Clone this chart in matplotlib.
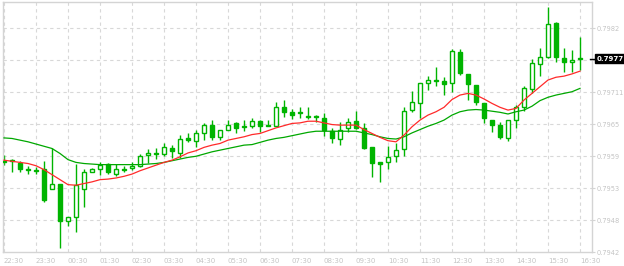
import matplotlib
matplotlib.use("Agg")
import matplotlib.pyplot as plt
import numpy as np

# ---- data (15-minute candles) ----
time_labels = ["22:30", "23:30", "00:30", "01:30", "02:30", "03:30", "04:30",
               "05:30", "06:30", "07:30", "08:30", "09:30", "10:30", "11:30",
               "12:30", "13:30", "14:30", "15:30", "16:30"]

open_ = [0.79583, 0.79584, 0.79580, 0.79568, 0.79566, 0.79569, 0.79534, 0.79542, 0.79475, 0.79482,
         0.79534, 0.79563, 0.79569, 0.79578, 0.79560, 0.79570, 0.79571, 0.79574, 0.79594, 0.79598,
         0.79596, 0.79607, 0.79597, 0.79625, 0.79620, 0.79633, 0.79648, 0.79627, 0.79640, 0.79652,
         0.79645, 0.79646, 0.79655, 0.79648, 0.79647, 0.79680, 0.79672, 0.79670, 0.79663, 0.79664,
         0.79660, 0.79637, 0.79623, 0.79642, 0.79655, 0.79642, 0.79608, 0.79582, 0.79581, 0.79592,
         0.79605, 0.79675, 0.79687, 0.79724, 0.79728, 0.79727, 0.79723, 0.79779, 0.79740, 0.79720,
         0.79687, 0.79657, 0.79648, 0.79624, 0.79658, 0.79681, 0.79712, 0.79757, 0.79771, 0.79831,
         0.79768, 0.79761, 0.79766]

high = [0.79594, 0.79587, 0.79583, 0.79575, 0.79572, 0.79583, 0.79606, 0.79542, 0.79482, 0.79579,
        0.79570, 0.79571, 0.79581, 0.79580, 0.79579, 0.79575, 0.79582, 0.79596, 0.79605, 0.79606,
        0.79616, 0.79612, 0.79630, 0.79634, 0.79639, 0.79652, 0.79657, 0.79640, 0.79657, 0.79654,
        0.79658, 0.79661, 0.79658, 0.79657, 0.79690, 0.79693, 0.79677, 0.79680, 0.79680, 0.79667,
        0.79670, 0.79642, 0.79653, 0.79660, 0.79673, 0.79651, 0.79608, 0.79582, 0.79610, 0.79616,
        0.79680, 0.79709, 0.79724, 0.79736, 0.79752, 0.79735, 0.79784, 0.79785, 0.79740, 0.79720,
        0.79687, 0.79657, 0.79653, 0.79658, 0.79684, 0.79718, 0.79766, 0.79787, 0.79861, 0.79834,
        0.79786, 0.79783, 0.79806]

low = [0.79576, 0.79564, 0.79564, 0.79560, 0.79560, 0.79510, 0.79534, 0.79428, 0.79467, 0.79456,
       0.79500, 0.79563, 0.79558, 0.79561, 0.79557, 0.79564, 0.79567, 0.79572, 0.79580, 0.79588,
       0.79592, 0.79589, 0.79589, 0.79617, 0.79609, 0.79621, 0.79621, 0.79621, 0.79640, 0.79634,
       0.79638, 0.79643, 0.79635, 0.79646, 0.79647, 0.79662, 0.79659, 0.79660, 0.79659, 0.79653,
       0.79629, 0.79616, 0.79613, 0.79635, 0.79641, 0.79605, 0.79555, 0.79545, 0.79570, 0.79581,
       0.79593, 0.79672, 0.79660, 0.79711, 0.79719, 0.79702, 0.79708, 0.79738, 0.79693, 0.79685,
       0.79651, 0.79636, 0.79623, 0.79620, 0.79642, 0.79674, 0.79705, 0.79737, 0.79769, 0.79762,
       0.79744, 0.79744, 0.79747]

close = [0.79581, 0.79583, 0.79569, 0.79567, 0.79565, 0.79513, 0.79542, 0.79476, 0.79482, 0.79540,
         0.79563, 0.79569, 0.79576, 0.79563, 0.79569, 0.79568, 0.79575, 0.79592, 0.79598, 0.79596,
         0.79609, 0.79602, 0.79623, 0.79621, 0.79633, 0.79648, 0.79627, 0.79640, 0.79649, 0.79643,
         0.79644, 0.79655, 0.79647, 0.79647, 0.79680, 0.79672, 0.79667, 0.79669, 0.79663, 0.79662,
         0.79640, 0.79624, 0.79640, 0.79654, 0.79642, 0.79607, 0.79580, 0.79579, 0.79590, 0.79603,
         0.79673, 0.79690, 0.79724, 0.79729, 0.79727, 0.79722, 0.79781, 0.79742, 0.79721, 0.79690,
         0.79660, 0.79648, 0.79626, 0.79658, 0.79681, 0.79714, 0.79759, 0.79770, 0.79829, 0.79771,
         0.79762, 0.79765, 0.79767]

ma_fast = [0.79585, 0.79583, 0.79581, 0.79579, 0.79575, 0.79568, 0.79559, 0.79550, 0.79541, 0.79540,
           0.79543, 0.79546, 0.79550, 0.79551, 0.79553, 0.79556, 0.79560, 0.79566, 0.79571, 0.79576,
           0.79581, 0.79585, 0.79591, 0.79598, 0.79602, 0.79608, 0.79612, 0.79615, 0.79621, 0.79624,
           0.79627, 0.79631, 0.79633, 0.79638, 0.79643, 0.79647, 0.79651, 0.79652, 0.79655, 0.79655,
           0.79652, 0.79649, 0.79648, 0.79648, 0.79648, 0.79640, 0.79633, 0.79626, 0.79620, 0.79618,
           0.79630, 0.79645, 0.79657, 0.79666, 0.79672, 0.79680, 0.79694, 0.79702, 0.79705, 0.79702,
           0.79695, 0.79687, 0.79680, 0.79675, 0.79678, 0.79693, 0.79705, 0.79717, 0.79729, 0.79734,
           0.79736, 0.79740, 0.79745]

ma_slow = [0.79625, 0.79624, 0.79621, 0.79618, 0.79614, 0.79610, 0.79606, 0.79597, 0.79586, 0.79581,
           0.79579, 0.79578, 0.79577, 0.79577, 0.79577, 0.79577, 0.79577, 0.79577, 0.79578, 0.79579,
           0.79581, 0.79584, 0.79587, 0.79590, 0.79592, 0.79596, 0.79600, 0.79603, 0.79606, 0.79609,
           0.79612, 0.79613, 0.79617, 0.79621, 0.79624, 0.79626, 0.79629, 0.79632, 0.79635, 0.79637,
           0.79637, 0.79637, 0.79637, 0.79637, 0.79637, 0.79634, 0.79631, 0.79627, 0.79624, 0.79623,
           0.79627, 0.79634, 0.79640, 0.79646, 0.79651, 0.79657, 0.79666, 0.79672, 0.79675, 0.79676,
           0.79675, 0.79673, 0.79671, 0.79668, 0.79672, 0.79675, 0.79682, 0.79692, 0.79698, 0.79702,
           0.79705, 0.79708, 0.79714]

price_ticks = [0.7942, 0.794775, 0.79535, 0.795925, 0.7965, 0.797075, 0.79765, 0.798225]
# the label at 0.79765 is covered by the current-price box in the reference
price_labels = ["0.7942", "0.7948", "0.7953", "0.7959", "0.7965", "0.79711", "", "0.7982"]

# ---- style ----
CANDLE = "#00b400"
RED = "#ff2a2a"
GREEN = "#00a800"
GRID = "#d8d8d8"
TXT = "#c4c4c4"

W, H = 624, 266
fig = plt.figure(figsize=(W / 100, H / 100), dpi=100)
ax = fig.add_axes([3 / W, (H - 252) / H, (592 - 3) / W, (252 - 2) / H])

n = len(open_)
x = np.arange(n)
o = np.array(open_); c = np.array(close); h = np.array(high); l = np.array(low)

ax.set_xlim(-0.125, 73.5)
ax.set_ylim(0.7942, 0.7942 + 250 * 0.000575 / 32)

# grid
for t in price_ticks[1:]:
    ax.axhline(t, color=GRID, lw=0.8, ls=(0, (3, 3)), zorder=0)
xt = np.arange(0, n, 4)
for t in xt:
    ax.axvline(t, color=GRID, lw=0.8, ls=(0, (3, 3)), zorder=0)

# wicks
ax.vlines(x, l, h, color=CANDLE, lw=1.0, zorder=2)
# bodies
bull = c >= o
bottom = np.minimum(o, c)
height = np.maximum(np.abs(c - o), 0.000018)
ax.bar(x[bull], height[bull], bottom=bottom[bull], width=0.6,
       facecolor="white", edgecolor=CANDLE, linewidth=1.0, zorder=3)
ax.bar(x[~bull], height[~bull], bottom=bottom[~bull], width=0.6,
       facecolor=CANDLE, edgecolor=CANDLE, linewidth=1.0, zorder=3)

# moving averages
ax.plot(x, ma_slow, color=GREEN, lw=0.9, zorder=4)
ax.plot(x, ma_fast, color=RED, lw=0.9, zorder=4)

# axes
for s in ax.spines.values():
    s.set_color("#d4d4d4")
    s.set_linewidth(1.0)
ax.set_xticks(xt)
ax.set_xticklabels(time_labels, ha="left")
ax.set_yticks(price_ticks)
ax.set_yticklabels(price_labels)
ax.yaxis.tick_right()
ax.tick_params(axis="y", length=2.5, width=0.8, color="#d4d4d4", pad=0.5,
               labelsize=4.8, labelcolor=TXT)
ax.tick_params(axis="x", length=0, pad=4, labelsize=5, labelcolor=TXT)

# current price marker
last = close[-1]
ytr = ax.get_yaxis_transform()
ax.plot([0.9965, 1.004], [last, last], color="black", lw=1.0,
        transform=ytr, clip_on=False, zorder=6)
ax.text(1.0075, last, f"{last:.4f}", transform=ytr, ha="left", va="center",
        fontsize=5, color="white", fontweight="bold", zorder=7, clip_on=False,
        bbox=dict(boxstyle="square,pad=0.2", facecolor="black", edgecolor="black"))

fig.savefig("out.png", dpi=100, facecolor="white")
